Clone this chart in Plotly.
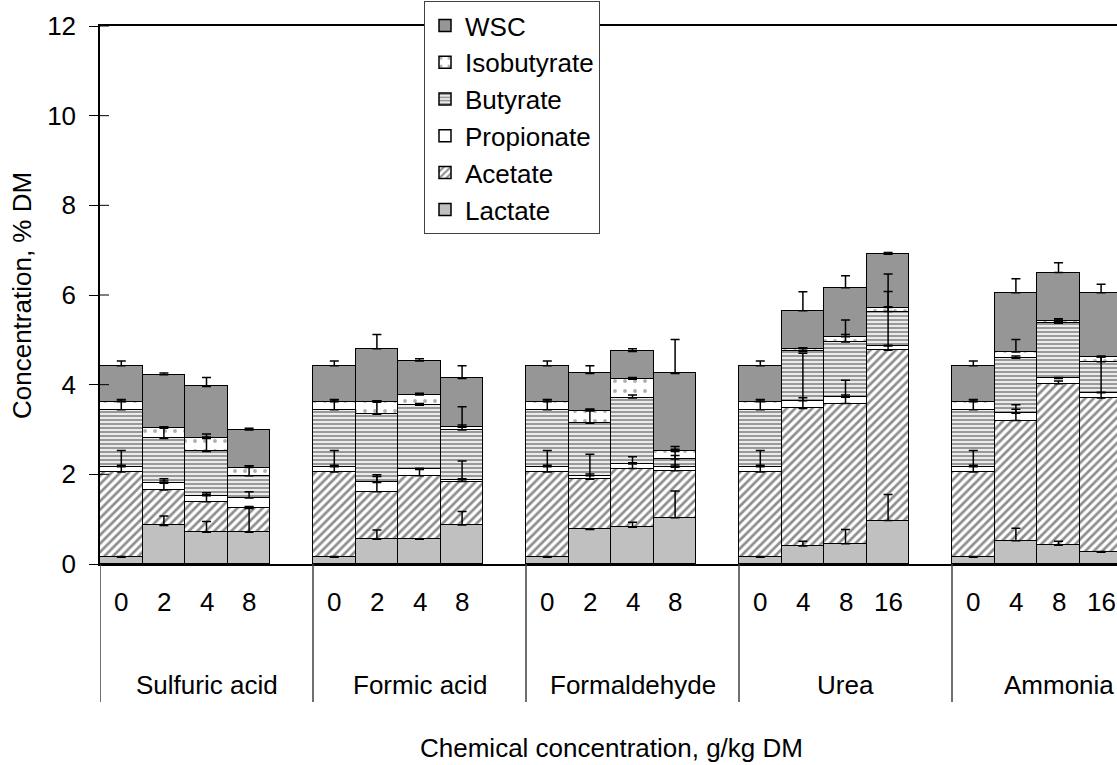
import plotly.graph_objects as go

# Silage fermentation products by additive and dose (% DM)
treatments = ["Sulfuric acid", "Formic acid", "Formaldehyde", "Urea", "Ammonia"]
doses = [
    ["0", "2", "4", "8"],
    ["0", "2", "4", "8"],
    ["0", "2", "4", "8"],
    ["0", "4", "8", "16"],
    ["0", "4", "8", "16"],
]

# Segment values, 4 doses per treatment, treatments in the order above
lactate = [0.15, 0.86, 0.71, 0.71,  0.15, 0.55, 0.55, 0.87,  0.15, 0.77, 0.82, 1.03,
           0.15, 0.40, 0.45, 0.97,  0.15, 0.52, 0.42, 0.26]
acetate = [1.90, 0.79, 0.68, 0.53,  1.90, 1.06, 1.42, 0.97,  1.90, 1.12, 1.31, 1.05,
           1.90, 3.07, 3.13, 3.80,  1.90, 2.68, 3.60, 3.44]
propionate = [0.12, 0.15, 0.13, 0.23,  0.12, 0.21, 0.14, 0.04,  0.12, 0.08, 0.10, 0.08,
              0.12, 0.17, 0.14, 0.09,  0.12, 0.16, 0.12, 0.12]
butyrate = [1.27, 1.00, 0.99, 0.50,  1.27, 1.52, 1.43, 1.11,  1.27, 1.17, 1.47, 0.18,
            1.27, 1.10, 1.23, 0.77,  1.27, 1.23, 1.23, 0.69]
isobutyrate = [0.18, 0.23, 0.29, 0.18,  0.18, 0.27, 0.23, 0.06,  0.18, 0.27, 0.42, 0.17,
               0.18, 0.06, 0.12, 0.09,  0.18, 0.14, 0.04, 0.11]
wsc = [0.80, 1.19, 1.16, 0.84,  0.80, 1.19, 0.76, 1.09,  0.80, 0.84, 0.62, 1.74,
       0.80, 0.85, 1.09, 1.19,  0.80, 1.32, 1.09, 1.43]

# Standard errors (upper bars only)
lactate_err = [0.02, 0.21, 0.24, 0.55,  0.02, 0.21, 0.01, 0.30,  0.02, 0.01, 0.11, 0.60,
               0.02, 0.11, 0.32, 0.58,  0.02, 0.28, 0.09, 0.02]
acetate_err = [0.15, 0.25, 0.20, 0.04,  0.15, 0.34, 0.16, 0.46,  0.15, 0.12, 0.13, 0.13,
               0.15, 0.24, 0.19, 0.11,  0.15, 0.25, 0.06, 0.13]
propionate_err = [0.36, 0.05, 0.03, 0.14,  0.36, 0.17, 0.02, 0.02,  0.36, 0.48, 0.16, 0.26,
                  0.36, 1.06, 0.38, 1.22,  0.36, 0.19, 0.02, 0.80]
butyrate_err = [0.23, 0.25, 0.39, 0.22,  0.23, 0.30, 0.04, 0.52,  0.23, 0.31, 0.07, 0.28,
                0.23, 0.08, 0.17, 0.84,  0.23, 0.05, 0.07, 0.11]
isobutyrate_err = [0.04, 0.03, 0.03, 0.04,  0.04, 0.03, 0.04, 0.05,  0.04, 0.04, 0.04, 0.05,
                   0.04, 0.02, 0.37, 0.02,  0.04, 0.28, 0.06, 0.02]
wsc_err = [0.11, 0.04, 0.20, 0.04,  0.11, 0.32, 0.05, 0.28,  0.11, 0.17, 0.06, 0.76,
           0.11, 0.42, 0.27, 0.04,  0.11, 0.31, 0.22, 0.19]

y_ticks = [0, 2, 4, 6, 8, 10, 12]

FONT = "Liberation Sans, Arial, sans-serif"
SLOTS_PER_GROUP = 5          # 4 doses + one empty slot between treatments
SLOT_PX = 42.6
PLOT_LEFT, PLOT_RIGHT = 100, 1117
X_MAX = -0.5 + (PLOT_RIGHT - PLOT_LEFT) / SLOT_PX

xs = [g * SLOTS_PER_GROUP + b for g in range(len(treatments)) for b in range(4)]

components = [
    ("Lactate", lactate, lactate_err, dict(color="#c0c0c0")),
    ("Acetate", acetate, acetate_err,
     dict(color="white", pattern=dict(shape="/", fgcolor="#1e1e1e", bgcolor="white",
                                      size=6, solidity=0.45))),
    ("Propionate", propionate, propionate_err, dict(color="white")),
    ("Butyrate", butyrate, butyrate_err,
     dict(color="white", pattern=dict(shape="-", fgcolor="#333333", bgcolor="white",
                                      size=4, solidity=0.6))),
    ("Isobutyrate", isobutyrate, isobutyrate_err,
     dict(color="white", pattern=dict(shape=".", fgcolor="#606060", bgcolor="white",
                                      size=10, solidity=0.12))),
    ("WSC", wsc, wsc_err, dict(color="#969696")),
]

fig = go.Figure()
for name, vals, _, marker in components:
    m = dict(marker)
    m["line"] = dict(color="black", width=1.5)
    fig.add_trace(go.Bar(name=name, x=xs, y=vals, width=1, marker=m))

# error bars sit on top of each stacked segment, drawn above all bars
running = [0.0] * len(xs)
for name, vals, errs, _ in components:
    running = [r + v for r, v in zip(running, vals)]
    fig.add_trace(go.Scatter(
        x=xs, y=list(running), mode="markers",
        marker=dict(size=2, color="rgba(0,0,0,0)"),
        error_y=dict(type="data", symmetric=False, array=errs,
                     arrayminus=[0] * len(errs), color="black",
                     thickness=1.5, width=4.5),
        showlegend=False, hoverinfo="skip",
    ))

annotations = []
# dose labels
for g, group in enumerate(doses):
    for b, d in enumerate(group):
        annotations.append(dict(x=g * SLOTS_PER_GROUP + b, y=-0.0706, xref="x", yref="paper",
                                text=d, showarrow=False, xanchor="center", yanchor="middle",
                                font=dict(size=26, color="black", family=FONT)))
# treatment labels
for g, t in enumerate(treatments):
    annotations.append(dict(x=g * SLOTS_PER_GROUP + 2, y=-0.2249, xref="x", yref="paper",
                            text=t, showarrow=False, xanchor="center", yanchor="middle",
                            font=dict(size=26, color="black", family=FONT)))
# axis titles
annotations.append(dict(x=11.5, y=-0.342, xref="x", yref="paper",
                        text="Chemical concentration, g/kg DM", showarrow=False,
                        xanchor="center", yanchor="middle",
                        font=dict(size=26, color="black", family=FONT)))
annotations.append(dict(x=-0.0767, y=0.5, xref="paper", yref="paper",
                        text="Concentration, % DM", showarrow=False, textangle=-90,
                        xanchor="center", yanchor="middle",
                        font=dict(size=26, color="black", family=FONT)))

shapes = []
# separators between treatment groups below the axis
for g in range(len(treatments)):
    sx = g * SLOTS_PER_GROUP - 0.5
    shapes.append(dict(type="line", xref="x", yref="paper", x0=sx, x1=sx, y0=0, y1=-0.2565,
                       line=dict(color="#404040", width=1.5)))
# inner half of the crossing y ticks
for v in y_ticks:
    shapes.append(dict(type="line", xref="paper", yref="y", x0=0, x1=9 / (PLOT_RIGHT - PLOT_LEFT),
                       y0=v, y1=v, line=dict(color="black", width=1)))

fig.update_layout(
    width=1117, height=765,
    margin=dict(l=PLOT_LEFT, r=0, t=26, b=201, pad=0),
    paper_bgcolor="white", plot_bgcolor="white",
    barmode="stack", bargap=0,
    font=dict(family=FONT, size=26, color="black"),
    xaxis=dict(range=[-0.5, X_MAX], showticklabels=False, ticks="", showgrid=False,
               zeroline=False, showline=True, linecolor="black", linewidth=1.5, mirror=True),
    yaxis=dict(range=[0, 12], tickvals=y_ticks, ticks="outside", ticklen=9, tickwidth=1,
               tickcolor="black", showgrid=False, zeroline=False, showline=True,
               linecolor="black", linewidth=1.5, ticklabelstandoff=8,
               tickfont=dict(size=26, family=FONT, color="black")),
    legend=dict(x=(424 - PLOT_LEFT) / (PLOT_RIGHT - PLOT_LEFT), y=(564 - 1) / 538,
                xanchor="left", yanchor="top", traceorder="reversed",
                bgcolor="white", bordercolor="#404040", borderwidth=1,
                font=dict(size=26, family=FONT, color="black")),
    annotations=annotations,
    shapes=shapes,
    showlegend=True,
)

fig.write_html("out.html")
